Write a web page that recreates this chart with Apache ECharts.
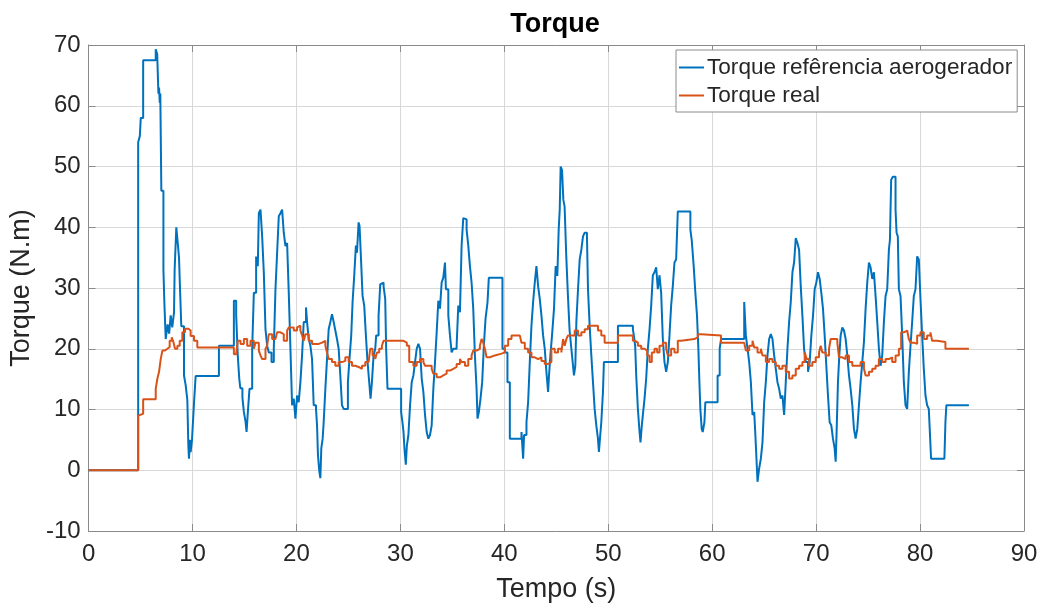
<!DOCTYPE html>
<html>
<head>
<meta charset="utf-8">
<script src="https://cdn.jsdelivr.net/npm/echarts@6/dist/echarts.min.js"></script>
<style>
  html, body { margin: 0; padding: 0; background: #fff; }
  #chart { width: 1046px; height: 608px; }
</style>
</head>
<body>
<div id="chart"></div>
<script>
// Reference torque for the wind generator: sample times (s) and values (N.m)
const refTime = [
  0, 4.77, 4.93, 5.02, 5.25, 6.46, 6.6, 6.72, 6.78, 6.85, 6.9, 7.0, 7.2, 7.29, 7.42, 7.6, 7.75, 7.9, 8.05, 8.22,
  8.28, 8.44, 8.6, 8.7, 8.8, 8.92, 9.18, 9.34, 9.5, 9.6, 9.66, 9.75, 9.82, 9.95, 10.14, 10.3, 12.54, 13.98, 14.2, 14.35,
  14.5, 14.6, 14.8, 14.94, 15.1, 15.2, 15.3, 15.48, 15.74, 15.9, 16.12, 16.28, 16.38, 16.54, 16.7, 16.86, 17.02, 17.18, 17.34, 17.6,
  17.82, 17.98, 18.14, 18.3, 18.46, 18.62, 18.78, 18.94, 19.1, 19.26, 19.42, 19.58, 19.74, 19.9, 20.06, 20.22, 20.38, 20.54, 20.7, 20.92,
  21.02, 21.18, 21.34, 21.5, 21.66, 21.88, 21.98, 22.07, 22.2, 22.3, 22.39, 22.52, 22.62, 22.78, 22.94, 23.1, 23.26, 23.42, 23.58, 23.74,
  23.9, 24.06, 24.22, 24.38, 24.54, 24.95, 25.08, 25.27, 25.4, 25.56, 25.72, 25.82, 25.98, 26.07, 26.2, 26.36, 26.52, 26.68, 26.84, 27.0,
  27.13, 27.26, 27.42, 27.58, 27.67, 27.9, 28.06, 28.22, 28.38, 28.54, 28.63, 28.76, 30.07, 30.2, 30.3, 30.39, 30.52, 30.62, 30.77, 30.93,
  31.09, 31.25, 31.41, 31.57, 31.73, 31.89, 32.05, 32.21, 32.37, 32.53, 32.69, 32.85, 33.01, 33.17, 33.33, 33.49, 33.65, 33.81, 33.97, 34.13,
  34.29, 34.38, 34.61, 34.77, 34.93, 35.09, 35.41, 35.57, 35.73, 35.89, 36.05, 36.21, 36.37, 36.53, 36.69, 36.85, 37.01, 37.17, 37.33, 37.42,
  37.55, 37.71, 37.87, 38.03, 38.19, 38.38, 38.51, 39.82, 40.05, 40.3, 40.53, 41.65, 41.81, 41.9, 42.13, 42.29, 42.45, 42.61, 42.77, 42.93,
  43.09, 43.25, 43.41, 43.57, 43.73, 43.89, 44.05, 44.21, 44.3, 44.43, 44.59, 44.78, 44.94, 45.1, 45.23, 45.33, 45.42, 45.55, 45.68, 45.8,
  45.96, 46.12, 46.28, 46.45, 46.61, 46.7, 46.83, 46.93, 47.09, 47.25, 47.41, 47.57, 47.73, 47.95, 48.05, 48.21, 48.37, 48.53, 48.69, 48.85,
  49.01, 49.1, 49.23, 49.33, 49.49, 49.58, 50.93, 52.37, 52.46, 52.59, 52.69, 52.85, 53.01, 53.1, 53.23, 53.33, 53.49, 53.65, 53.81, 53.97,
  54.13, 54.29, 54.45, 54.61, 54.77, 54.93, 55.09, 55.25, 55.41, 55.57, 55.73, 55.89, 56.05, 56.21, 56.37, 56.53, 56.69, 57.9, 58.03, 58.22,
  58.38, 58.54, 58.67, 58.77, 58.86, 58.99, 59.09, 59.25, 59.34, 60.52, 60.72, 60.85, 63.08, 63.24, 63.4, 63.56, 63.72, 63.88, 64.04, 64.14,
  64.26, 64.36, 64.52, 64.68, 64.84, 65.0, 65.16, 65.32, 65.48, 65.64, 65.8, 65.96, 66.12, 66.28, 66.44, 66.6, 66.76, 66.92, 67.08, 67.24,
  67.4, 67.56, 67.72, 67.88, 68.04, 68.2, 68.36, 68.52, 68.68, 68.84, 69.0, 69.22, 69.38, 69.54, 69.7, 69.86, 70.02, 70.18, 70.34, 70.5,
  70.66, 70.82, 70.98, 71.14, 71.3, 71.46, 71.62, 71.78, 71.88, 71.97, 72.1, 72.23, 72.36, 72.52, 72.68, 72.84, 73.0, 73.16, 73.32, 73.48,
  73.64, 73.8, 73.96, 74.12, 74.28, 74.44, 74.6, 74.76, 74.92, 75.08, 75.24, 75.4, 75.56, 75.72, 75.88, 76.04, 76.2, 76.36, 76.52, 76.68,
  76.84, 77.0, 77.1, 77.22, 77.38, 77.64, 77.74, 77.86, 77.96, 78.12, 78.28, 78.44, 78.6, 78.76, 78.92, 79.08, 79.24, 79.4, 79.56, 79.72,
  79.88, 80.04, 80.2, 80.36, 80.52, 80.68, 80.84, 80.93, 81.06, 82.34, 82.44, 82.53, 84.7
];
const refTorque = [
  0, 54, 55, 58, 67.5, 69.3, 68.5, 62, 63, 60.5, 62, 46, 33, 27.6, 21.6, 24, 22.5, 25.5, 23.5, 26,
  33, 40, 37, 35, 29.7, 23.7, 15.6, 14, 11.6, 4, 1.9, 5, 3, 5, 11, 15.5, 20.5, 27.9, 25.5, 19,
  15, 13.5, 12, 9.6, 8, 6.3, 9, 13.4, 20, 29.2, 35.2, 33.6, 42.3, 42.9, 38.5, 32.5, 23.2, 20.5, 19.4, 17.8,
  20, 29.8, 35.8, 41.8, 42.3, 42.9, 39.1, 36.9, 37.4, 29.2, 20, 10.7, 11.8, 8.5, 12.3, 11.2, 14.5, 18.9, 24.4, 26.8,
  24.4, 21.6, 20.5, 18.3, 10.7, 10.1, 7.4, 2.5, -0.2, -1.3, 3.6, 5.2, 7.9, 13.4, 18.3, 23.2, 24.4, 25.7, 24.4, 23,
  21.6, 20, 15.6, 10.7, 10.1, 14.5, 17.8, 22.2, 27.7, 32.1, 37, 35.8, 40.8, 40.2, 35.2, 28.7, 27.1, 22.2, 17.8, 14.5,
  11.8, 14.5, 18.9, 20, 22.2, 25.4, 30.6, 30.9, 30.3, 28.2, 20, 13.4, 9.6, 7.9, 6.3, 3.6, 0.9, 4, 5.8, 10.7,
  14.5, 15.6, 17.8, 20, 20.8, 20, 15.1, 12.9, 9.1, 6.3, 5.2, 5.8, 7.4, 13.4, 17.8, 22.7, 27.9, 26.6, 30.9, 31.7,
  34.2, 29.8, 25.5, 22.2, 19.4, 20, 20.5, 27.1, 26, 37, 41.5, 41.3, 39.6, 37, 33.6, 30.9, 26.6, 18.9, 13.4, 8.5,
  9.6, 11.8, 14.5, 20.5, 24.9, 27.6, 31.7, 20, 19.4, 14.5, 5.2, 6.3, 1.9, 5.8, 7.9, 11.2, 17.8, 23.8, 27.7, 30.9,
  33.6, 30.3, 28.2, 25.5, 22.2, 20, 16.2, 12.9, 15.6, 18.9, 22.2, 26.6, 33.6, 32, 39.6, 42.9, 50, 49.4, 44.5, 43.4,
  35.2, 28.7, 23, 20, 17.2, 15.6, 17.2, 24.4, 29.8, 34.7, 36.3, 38.5, 39.1, 38.5, 29.8, 23.8, 18.9, 14.5, 10.1, 7.4,
  5.2, 3.0, 5.8, 7.9, 12.9, 17.8, 23.8, 23.2, 22.2, 20.5, 15.6, 10.1, 6.3, 4.6, 7.4, 9.1, 11.8, 15.1, 20, 23.2,
  27.1, 32.1, 32.6, 33.4, 29.8, 32.1, 29.2, 21.6, 17.8, 16.2, 17.8, 22.2, 27.1, 30.3, 34.2, 34.7, 42.6, 39.6, 37.9, 33.6,
  29.2, 25.4, 20, 14.5, 10.1, 6.8, 6.3, 7.9, 11.2, 15.6, 20, 21.6, 27.7, 22.2, 20, 17.8, 14.5, 9.1, 9.6, 6.3,
  1.9, -1.9, 0.3, 1.9, 4.6, 11.2, 14.5, 18.9, 21.6, 22.4, 21.6, 18.9, 16.7, 14.5, 13.4, 11.8, 12.3, 9.1, 14.5, 20,
  24.4, 27.7, 32.6, 34.2, 38.2, 37.4, 36.3, 30.3, 25.4, 20, 17.8, 16.2, 17.8, 22.2, 25.4, 29.8, 30.9, 32.6, 31.5, 29.2,
  26.6, 22.2, 17.2, 12.3, 7.9, 7.4, 5.2, 3.6, 1.4, 6.3, 14.5, 18.9, 22.2, 23.5, 23, 21.6, 18.9, 15.6, 13.4, 10.7,
  6.8, 5.2, 6.8, 10.7, 14.5, 17.8, 21.1, 26.6, 30.9, 34.2, 33.4, 31.5, 32.6, 28.7, 24.4, 20, 17.2, 18.9, 24.4, 28.7,
  29.8, 36.3, 37.9, 47.8, 48.3, 42.9, 39.1, 38.5, 29.8, 28.7, 22.2, 14.5, 10.7, 10.1, 16.2, 20.5, 24.4, 28.7, 29.8, 35.2,
  34.7, 28.2, 22.2, 16.7, 12.3, 10.7, 10.1, 6.8, 1.9, 2.2, 7.9, 10.7, 10.7
];

// Measured torque: sample times (s) and values (N.m)
const realTime = [
  0, 4.77, 4.93, 5.25, 6.46, 6.62, 6.78, 6.94, 7.1, 7.32, 7.58, 7.8, 8.0, 8.16, 8.32, 8.54, 8.77, 9.02, 9.28, 9.6,
  9.82, 10.14, 10.46, 13.98, 14.2, 14.36, 14.62, 14.94, 15.26, 15.58, 15.9, 16.06, 16.38, 16.54, 16.7, 17.02, 17.18, 17.34, 17.66, 17.98,
  18.14, 18.46, 18.78, 19.1, 19.26, 19.74, 20.06, 20.22, 20.38, 20.54, 20.7, 20.86, 21.18, 21.5, 22.14, 22.46, 22.78, 22.94, 23.1, 23.42,
  23.74, 24.06, 24.38, 24.7, 25.02, 25.34, 25.66, 25.98, 26.3, 26.62, 26.94, 27.1, 27.32, 27.58, 27.74, 27.96, 28.22, 28.38, 30.3, 30.62,
  30.85, 31.25, 31.57, 31.89, 32.21, 32.37, 33.01, 33.17, 33.49, 33.81, 34.13, 34.45, 34.77, 35.09, 35.41, 35.73, 35.89, 36.21, 36.53, 36.85,
  37.01, 37.33, 37.65, 37.81, 37.97, 38.13, 38.29, 38.61, 39.09, 39.73, 40.05, 40.37, 40.69, 41.49, 41.65, 41.97, 42.29, 42.61, 42.93, 43.25,
  43.57, 43.89, 44.21, 44.53, 44.85, 45.17, 45.49, 45.65, 45.81, 45.97, 46.13, 46.77, 47.09, 47.41, 47.73, 48.05, 49.01, 49.33, 49.65, 50.93,
  52.37, 52.59, 52.85, 53.17, 53.49, 53.74, 53.97, 54.19, 54.45, 54.7, 54.93, 55.25, 55.57, 55.73, 56.05, 56.37, 56.69, 57.01, 58.29, 58.61,
  58.93, 60.85, 63.08, 63.24, 63.56, 63.88, 64.04, 64.36, 64.68, 64.84, 65.16, 65.48, 65.8, 66.12, 66.44, 66.76, 67.08, 67.4, 67.72, 68.04,
  68.36, 68.68, 68.9, 69.09, 69.32, 69.64, 69.96, 70.28, 70.44, 70.6, 70.92, 71.24, 71.4, 72.04, 72.2, 72.52, 72.84, 73.16, 73.48, 74.28,
  74.6, 74.76, 75.08, 75.4, 75.72, 76.04, 76.36, 76.68, 77.0, 77.32, 77.64, 77.96, 78.18, 78.44, 78.76, 78.92, 79.08, 79.4, 79.72, 80.04,
  80.36, 80.68, 81.0, 81.16, 81.64, 82.44, 84.7
];
const realTorque = [
  0, 9.0, 9.3, 11.7, 13.4, 15.1, 16.2, 18.3, 19.7, 20, 20.3, 21.3, 21.9, 21.1, 20, 20.5, 21.3, 22.7, 23.3, 23,
  22.1, 21.3, 20.2, 19.1, 18.8, 21.3, 20.8, 21.6, 20.5, 21.3, 20, 21, 19.7, 18.9, 18.3, 20, 20.5, 22.4, 21.6, 21.3,
  22.7, 22.4, 21.3, 23, 23.5, 23, 23.5, 23.8, 23, 22.2, 21.3, 22.4, 21.3, 20.8, 21, 21.3, 20.5, 19.4, 18.3, 17.8,
  17.2, 17.8, 18, 18.6, 17.8, 17.2, 17, 16.7, 17.2, 17.8, 18, 20, 18.9, 18.3, 19.4, 20, 20.5, 21.3, 21, 20.5,
  17.8, 17.2, 17.8, 18.3, 17.8, 17.2, 16.7, 15.9, 15.3, 15.6, 15.9, 16.4, 16.7, 17, 17.5, 18.3, 17.8, 17.2, 18.3, 18.9,
  19.7, 20, 20.5, 21.6, 21, 20, 18.6, 18.9, 19.2, 19.4, 20.5, 21.6, 22.2, 21.9, 21, 20, 19.4, 18.6, 18.3, 18.6,
  18, 17.5, 17.8, 20, 19.4, 20, 19.4, 21.6, 20.5, 21.6, 22.2, 23, 22.2, 22.7, 23.2, 23.8, 23, 22.2, 21, 22.2,
  21.3, 21, 20.5, 20, 19.7, 18.9, 17.8, 19.4, 20, 19.4, 20.5, 21, 20, 18.9, 20, 19.4, 21.3, 21.6, 21.9, 22.4,
  22.2, 21, 20.8, 19.7, 20.5, 21.3, 20.2, 19.4, 20, 18.9, 17.8, 18.3, 17.8, 17.2, 16.7, 17.2, 16.2, 15.1, 15.6, 16.7,
  17.2, 17.8, 19.4, 18.3, 17.2, 17.8, 18.6, 19.4, 20.5, 19.4, 18.9, 20, 21.6, 21, 18.6, 18.3, 18.9, 17.8, 17.2, 17.8,
  16.7, 15.6, 16.2, 16.7, 17.2, 18.3, 17.8, 18.3, 18.6, 17.8, 18.9, 20, 22.7, 23, 22.7, 21.6, 21, 20.8, 22.2, 22.7,
  21.6, 22.2, 22.7, 21.3, 21.1, 20, 20
];

// Axis ranges and tick labels
const xTicks = [0, 10, 20, 30, 40, 50, 60, 70, 80, 90];
const yTicks = [-10, 0, 10, 20, 30, 40, 50, 60, 70];

const seriesNames = ['Torque refêrencia aerogerador', 'Torque real'];

const pair = (ts, vs) => ts.map((t, i) => [t, vs[i]]);

const FONT = '"Liberation Sans", Arial, Helvetica, sans-serif';
const AXIS_COLOR = '#8a8a8a';
const GRID_COLOR = '#d8d8d8';
const TEXT_COLOR = '#262626';

const chart = echarts.init(document.getElementById('chart'), null, { renderer: 'canvas' });

// Top and right axes only close the plot box (MATLAB-style "box on")
const boxAxis = {
  axisLine: { show: true, onZero: false, lineStyle: { color: AXIS_COLOR, width: 1 } },
  axisTick: { show: true, inside: true, length: 7, lineStyle: { color: AXIS_COLOR } },
  axisLabel: { show: false },
  splitLine: { show: false }
};

chart.setOption({
  animation: false,
  backgroundColor: '#ffffff',
  textStyle: { fontFamily: FONT },
  title: {
    text: 'Torque',
    left: 555,
    textAlign: 'center',
    top: 11,
    padding: 0,
    textStyle: { fontFamily: FONT, fontSize: 27, fontWeight: 'bold', color: '#000' }
  },
  legend: {
    orient: 'vertical',
    left: 676,
    top: 50,
    padding: [6, 5, 5, 3],
    itemGap: 5,
    itemWidth: 25,
    itemHeight: 2,
    icon: 'rect',
    backgroundColor: '#ffffff',
    borderColor: '#8c8c8c',
    borderWidth: 1,
    textStyle: { fontFamily: FONT, fontSize: 22.6, color: TEXT_COLOR, padding: [0, 0, 0, -2] },
    data: seriesNames
  },
  grid: { left: 86, right: 22, top: 45, bottom: 75, containLabel: false },
  xAxis: [
    {
      type: 'value',
      min: xTicks[0],
      max: xTicks[xTicks.length - 1],
      interval: 10,
      name: 'Tempo (s)',
      nameLocation: 'middle',
      nameGap: 45,
      nameTextStyle: { fontFamily: FONT, fontSize: 27, color: TEXT_COLOR },
      axisLine: { show: true, onZero: false, lineStyle: { color: AXIS_COLOR, width: 1 } },
      axisTick: { show: true, inside: true, length: 7, lineStyle: { color: AXIS_COLOR } },
      axisLabel: { margin: 11, fontFamily: FONT, fontSize: 24, color: TEXT_COLOR },
      splitLine: { show: true, lineStyle: { color: GRID_COLOR, width: 1 } }
    },
    Object.assign({ type: 'value', position: 'top', min: 0, max: 90, interval: 10 }, boxAxis)
  ],
  yAxis: [
    {
      type: 'value',
      min: yTicks[0],
      max: yTicks[yTicks.length - 1],
      interval: 10,
      name: 'Torque (N.m)',
      nameLocation: 'middle',
      nameGap: 44,
      nameTextStyle: { fontFamily: FONT, fontSize: 27, color: TEXT_COLOR },
      axisLine: { show: true, onZero: false, lineStyle: { color: AXIS_COLOR, width: 1 } },
      axisTick: { show: true, inside: true, length: 7, lineStyle: { color: AXIS_COLOR } },
      axisLabel: { margin: 8, fontFamily: FONT, fontSize: 24, color: TEXT_COLOR },
      splitLine: { show: true, lineStyle: { color: GRID_COLOR, width: 1 } }
    },
    Object.assign({ type: 'value', position: 'right', min: -10, max: 70, interval: 10 }, boxAxis)
  ],
  series: [
    {
      name: seriesNames[0],
      type: 'line',
      step: 'end',
      showSymbol: false,
      symbol: 'none',
      color: '#0072BD',
      lineStyle: { color: '#0072BD', width: 2 },
      data: pair(refTime, refTorque),
      z: 2
    },
    {
      name: seriesNames[1],
      type: 'line',
      step: 'end',
      showSymbol: false,
      symbol: 'none',
      color: '#D95319',
      lineStyle: { color: '#D95319', width: 2 },
      data: pair(realTime, realTorque),
      z: 3
    }
  ]
});
</script>
</body>
</html>
